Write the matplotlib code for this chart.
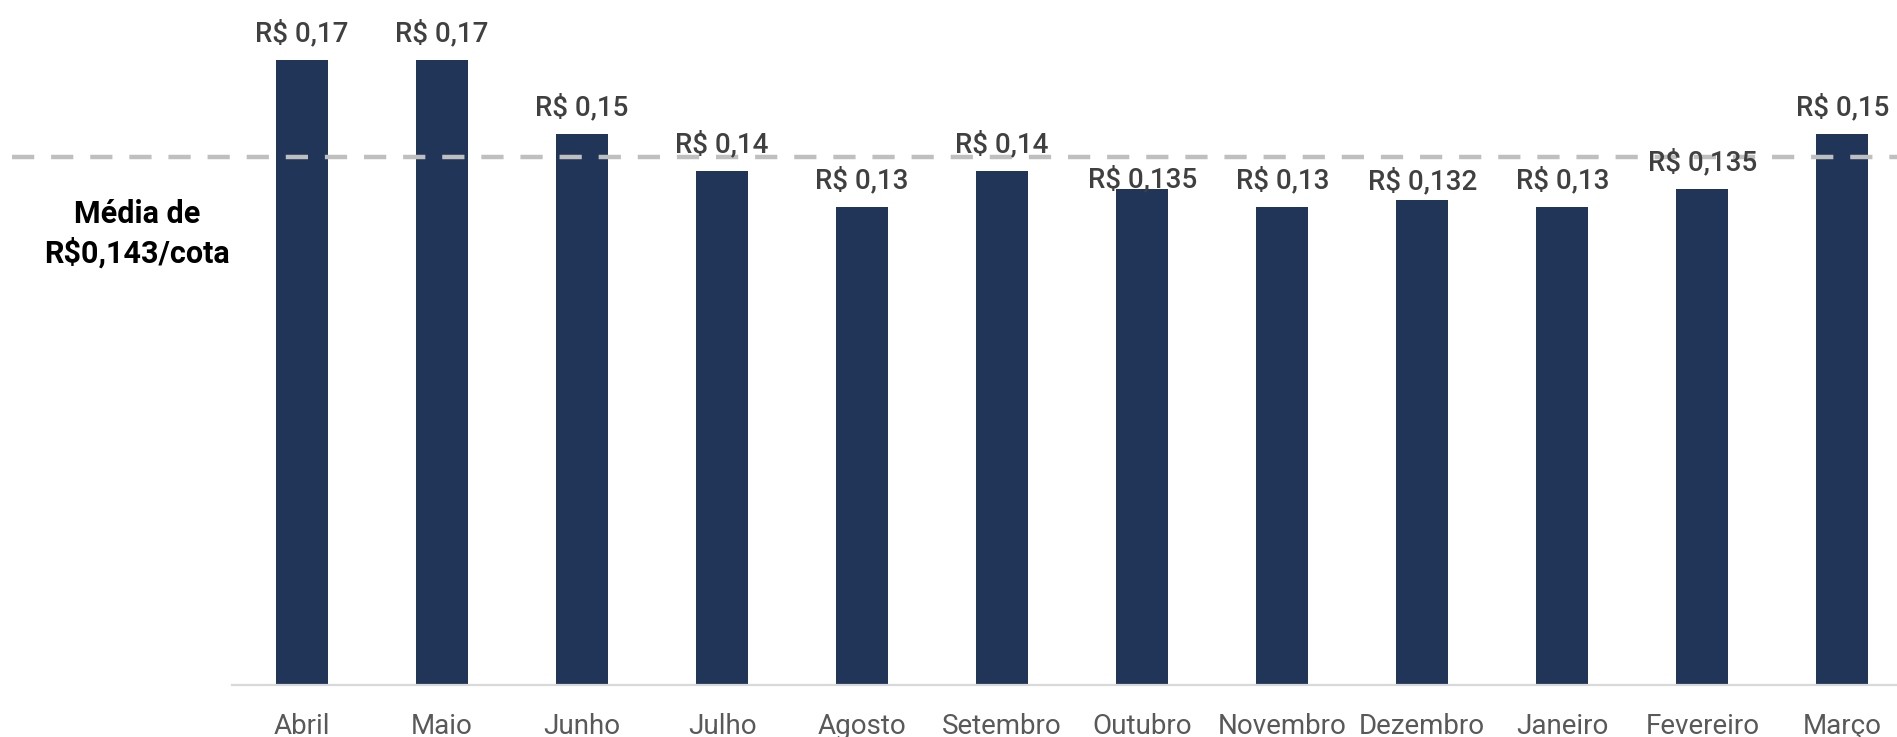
import matplotlib.pyplot as plt
import numpy as np

# Dados
MESES = ['Abril', 'Maio', 'Junho', 'Julho', 'Agosto', 'Setembro',
         'Outubro', 'Novembro', 'Dezembro', 'Janeiro', 'Fevereiro', 'Março']
VALORES = [0.17, 0.17, 0.15, 0.14, 0.13, 0.14, 0.135, 0.13, 0.132, 0.13, 0.135, 0.15]
ROTULOS = ['R$ 0,17', 'R$ 0,17', 'R$ 0,15', 'R$ 0,14', 'R$ 0,13', 'R$ 0,14',
           'R$ 0,135', 'R$ 0,13', 'R$ 0,132', 'R$ 0,13', 'R$ 0,135', 'R$ 0,15']
MEDIA = 0.1438  # posição da linha
TEXTO_MEDIA = 'Média de\nR$0,143/cota'

# Estilo
COR_BARRA = '#213559'
COR_ROTULO = '#404040'
COR_EIXO = '#595959'
FONTE = ['Roboto', 'DejaVu Sans']
# deslocamento (pt) do rótulo acima da barra
DESLOC = [19, 19, 19, 19, 19, 19, 7, 19, 13, 19, 19, 19]

plt.rcParams['font.family'] = FONTE

fig = plt.figure(figsize=(18.97, 7.37), dpi=100)
ax = fig.add_axes([0.1223, 0.0706, 0.8777, 0.9294])

x = np.arange(len(MESES))
ax.bar(x, VALORES, width=0.37, color=COR_BARRA, zorder=2)

# linha da média (estende para a esquerda do eixo)
ax.axhline(MEDIA, xmin=-0.132, xmax=1, color='#BFBFBF', linewidth=3.2,
           linestyle=(0, (5, 3.8)), clip_on=False, zorder=3)

for xi, v, r, d in zip(x, VALORES, ROTULOS, DESLOC):
    ax.annotate(r, (xi, v), xytext=(0, d), textcoords='offset points',
                ha='center', va='center', fontsize=20, fontweight='medium',
                color=COR_ROTULO, zorder=4)

fig.text(0.0722, 0.683, TEXTO_MEDIA, ha='center', va='center', fontsize=22,
         fontweight='bold', color='black', linespacing=1.34)

ax.set_xlim(-0.5, 11.39)
ax.set_ylim(0, 0.1864)
ax.set_xticks(x)
ax.set_xticklabels(MESES, fontsize=20, color=COR_EIXO, fontweight='normal')
ax.tick_params(axis='x', length=0, pad=20)
ax.set_yticks([])
for s in ['top', 'right', 'left']:
    ax.spines[s].set_visible(False)
ax.spines['bottom'].set_color('#D9D9D9')
ax.spines['bottom'].set_linewidth(1.6)

fig.savefig('out.png', dpi=100)
